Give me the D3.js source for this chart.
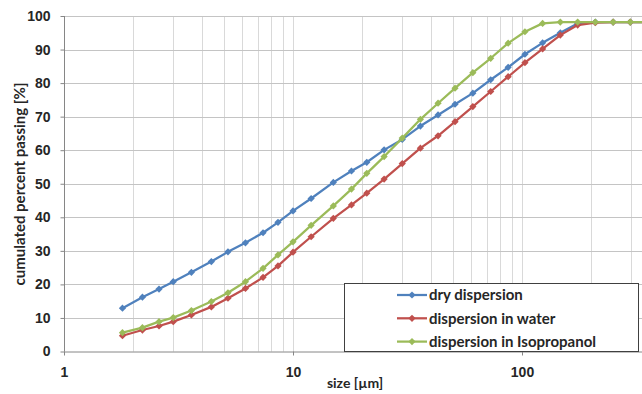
<!DOCTYPE html>
<html>
<head>
<meta charset="utf-8">
<script src="https://cdn.jsdelivr.net/npm/d3@7"></script>
<style>
  body { margin: 0; background: #fff; }
  svg { display: block; font-family: Lato, "Open Sans", sans-serif; }
  .tick-label { font-size: 14px; font-weight: bold; fill: #262626; }
  .axis-title { font-size: 14px; font-weight: bold; fill: #262626; }
  .y-title { font-size: 15px; }
  .legend-text { font-size: 15px; font-weight: bold; fill: #262626; }
</style>
</head>
<body>
<div class="chart"></div>
<script>
// particle size classes [µm]
let sizes = [1.8, 2.2, 2.6, 3.0, 3.6, 4.4, 5.2, 6.2, 7.4, 8.6, 10, 12, 15, 18, 21, 25, 30, 36, 43, 51, 61, 73, 87, 103, 123, 147, 175, 209, 250, 297, 350];

let dryValues = [12.9, 16.2, 18.6, 20.8, 23.6, 26.8, 29.7, 32.4, 35.4, 38.5, 41.9, 45.6, 50.4, 53.8, 56.4, 60.1, 63.2, 67.2, 70.5, 73.7, 77.0, 81.0, 84.7, 88.6, 92.0, 95.0, 97.8, 98.2, 98.2, 98.2, 98.2];
let waterValues = [4.7, 6.4, 7.6, 8.9, 10.9, 13.3, 15.9, 18.8, 22.1, 25.5, 29.6, 34.2, 39.7, 43.7, 47.2, 51.4, 56.0, 60.6, 64.3, 68.5, 73.0, 77.5, 81.9, 86.1, 90.2, 94.3, 97.3, 98.0, 98.2, 98.2, 98.2];
let isoValues = [5.6, 7.1, 8.9, 10.1, 12.2, 14.9, 17.5, 20.8, 24.8, 28.8, 32.7, 37.6, 43.4, 48.4, 53.1, 58.1, 63.6, 69.2, 74.0, 78.5, 83.1, 87.4, 91.9, 95.3, 97.8, 98.2, 98.2, 98.2, 98.2, 98.2, 98.2];

let seriesNames = ["dry dispersion", "dispersion in water", "dispersion in Isopropanol"];
let seriesColors = ["#4f81bd", "#c0504d", "#9bbb59"];

let xTicks = [1, 10, 100];
let yTicks = [0, 10, 20, 30, 40, 50, 60, 70, 80, 90, 100];

let svgWidth = 642;
let svgHeight = 394;

let plotLeft = 64, plotTop = 16, plotBottom = 351.5;

let svg = d3.select(".chart")
  .append("svg")
  .attr("width", svgWidth)
  .attr("height", svgHeight);

let x = d3.scaleLog().domain([1, 1000]).range([plotLeft, plotLeft + 3 * 229]);
let y = d3.scaleLinear().domain([0, 100]).range([plotBottom, plotTop]);

// gridlines
let minorX = [];
[1, 10, 100].forEach(function(d) {
  for (let k = 1; k <= 9; k++) minorX.push(d * k);
});

let grid = svg.append("g");
grid.selectAll("line.vx")
  .data(minorX.filter(function(d) { return d > 1; }))
  .enter().append("line")
    .attr("x1", function(d) { return Math.round(x(d)) + 0.5; })
    .attr("x2", function(d) { return Math.round(x(d)) + 0.5; })
    .attr("y1", plotTop)
    .attr("y2", plotBottom)
    .attr("stroke", "#d9d9d9")
    .attr("stroke-width", 1);

grid.selectAll("line.hy")
  .data(yTicks.filter(function(d) { return d > 0; }))
  .enter().append("line")
    .attr("x1", plotLeft)
    .attr("x2", svgWidth)
    .attr("y1", function(d) { return Math.round(y(d)) + 0.5; })
    .attr("y2", function(d) { return Math.round(y(d)) + 0.5; })
    .attr("stroke", "#c4c4c4")
    .attr("stroke-width", 1);

// axes
let bottomAxis = d3.axisBottom(x).tickValues(xTicks).tickSize(4).tickFormat(d3.format("d"));
let leftAxis = d3.axisLeft(y).tickValues(yTicks).tickSize(4);

let gx = svg.append("g")
  .attr("transform", `translate(0, ${plotBottom})`)
  .call(bottomAxis);
gx.select(".domain").attr("stroke", "#868686").attr("d", `M${plotLeft},0.5H${svgWidth}`);
gx.selectAll(".tick line").attr("stroke", "#868686");
gx.selectAll(".tick text").attr("class", "tick-label").attr("y", 16).attr("font-family", null).attr("font-size", null);

let gy = svg.append("g")
  .attr("transform", `translate(${plotLeft + 0.5}, 0)`)
  .call(leftAxis);
gy.select(".domain").attr("stroke", "#868686").attr("d", `M0,${plotTop}V${plotBottom}`);
gy.selectAll(".tick line").attr("stroke", "#868686");
gy.selectAll(".tick text").attr("class", "tick-label").attr("x", -14).attr("font-family", null).attr("font-size", null);

svg.append("text")
  .attr("class", "axis-title y-title")
  .attr("transform", `translate(20, 184) rotate(-90)`)
  .attr("dy", "0.35em")
  .style("text-anchor", "middle")
  .text("cumulated percent passing [%]");

svg.append("text")
  .attr("class", "axis-title")
  .attr("x", 355)
  .attr("y", 388)
  .style("text-anchor", "middle")
  .text("size [µm]");

// series
let allSeries = [dryValues, waterValues, isoValues];
let line = d3.line()
  .x(function(d) { return x(d[0]); })
  .y(function(d) { return y(d[1]); });
let diamond = d3.symbol(d3.symbolSquare, 26);

let plot = svg.append("g");
allSeries.forEach(function(values, i) {
  let points = sizes.map(function(s, j) { return [s, values[j]]; });
  plot.append("path")
    .attr("d", line(points))
    .attr("fill", "none")
    .attr("stroke", seriesColors[i])
    .attr("stroke-width", 2.25)
    .attr("stroke-linejoin", "round");
  plot.selectAll(null)
    .data(points)
    .enter().append("path")
      .attr("d", diamond)
      .attr("transform", function(d) { return `translate(${x(d[0])}, ${y(d[1])}) rotate(45)`; })
      .attr("fill", seriesColors[i]);
});

// legend
let legend = svg.append("g");
legend.append("rect")
  .attr("x", 344.5)
  .attr("y", 283.5)
  .attr("width", 294)
  .attr("height", 68)
  .attr("fill", "#fff")
  .attr("stroke", "#404040")
  .attr("stroke-width", 1);

seriesNames.forEach(function(name, i) {
  let cy = 295 + i * 23.3;
  legend.append("line")
    .attr("x1", 397).attr("x2", 427)
    .attr("y1", cy).attr("y2", cy)
    .attr("stroke", seriesColors[i])
    .attr("stroke-width", 2.25);
  legend.append("path")
    .attr("d", diamond)
    .attr("transform", `translate(412, ${cy}) rotate(45)`)
    .attr("fill", seriesColors[i]);
  legend.append("text")
    .attr("class", "legend-text")
    .attr("x", 429)
    .attr("y", cy)
    .attr("dy", "0.35em")
    .text(name);
});
</script>
</body>
</html>
